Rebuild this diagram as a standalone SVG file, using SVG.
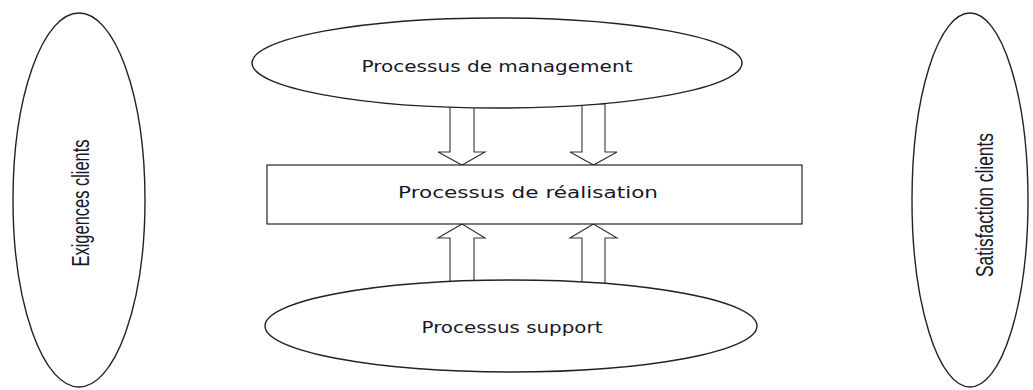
<svg xmlns="http://www.w3.org/2000/svg" width="1033" height="390" viewBox="0 0 1033 390">
  <style>
    .shape { fill: #ffffff; stroke: #222222; stroke-width: 1.4; }
    .box { fill: #ffffff; stroke: #111111; stroke-width: 1.1; }
    .arrow { fill: #ffffff; stroke: #333333; stroke-width: 1.1; stroke-linejoin: miter; }
    .lbl { font-family: "DejaVu Sans", "Noto Sans", sans-serif; font-size: 15px; fill: #18182a; text-anchor: middle; }
    .vlbl { font-family: "Liberation Sans", Arial, sans-serif; font-size: 15px; fill: #18182a; text-anchor: middle; }
  </style>
  <rect x="0" y="0" width="1033" height="390" fill="#ffffff"/>

  <!-- block arrows between the process layers -->
  <g id="connectors">
    <polygon class="arrow" points="450,104 474,104 474,152 485,152 462,165 438,152 450,152"/>
    <polygon class="arrow" points="582,104 605,104 605,152 617,152 593.5,165 570,152 582,152"/>
    <polygon class="arrow" points="462,224 485,238 474,238 474,285 450,285 450,238 438,238"/>
    <polygon class="arrow" points="593.5,224 617,238 605,238 605,285 582,285 582,238 570,238"/>
  </g>

  <g id="exigences-clients">
    <ellipse class="shape" cx="79" cy="200" rx="66" ry="187"/>
    <text class="vlbl" transform="translate(89,203) scale(1.55,1) rotate(-90)" x="0" y="0" textLength="127" lengthAdjust="spacingAndGlyphs">Exigences clients</text>
  </g>

  <g id="satisfaction-clients">
    <ellipse class="shape" cx="970" cy="200" rx="58" ry="187"/>
    <text class="vlbl" transform="translate(993,205) scale(1.55,1) rotate(-90)" x="0" y="0" textLength="144" lengthAdjust="spacingAndGlyphs">Satisfaction clients</text>
  </g>

  <g id="processus-management">
    <ellipse class="shape" cx="497" cy="63" rx="245" ry="45"/>
    <text class="lbl" x="497" y="72" textLength="271" lengthAdjust="spacingAndGlyphs">Processus de management</text>
  </g>

  <g id="processus-realisation">
    <rect class="box" x="267" y="165" width="535" height="59"/>
    <text class="lbl" x="528" y="198" textLength="260" lengthAdjust="spacingAndGlyphs">Processus de réalisation</text>
  </g>

  <g id="processus-support">
    <ellipse class="shape" cx="511" cy="326" rx="246" ry="46"/>
    <text class="lbl" x="512" y="333" textLength="181" lengthAdjust="spacingAndGlyphs">Processus support</text>
  </g>
</svg>
